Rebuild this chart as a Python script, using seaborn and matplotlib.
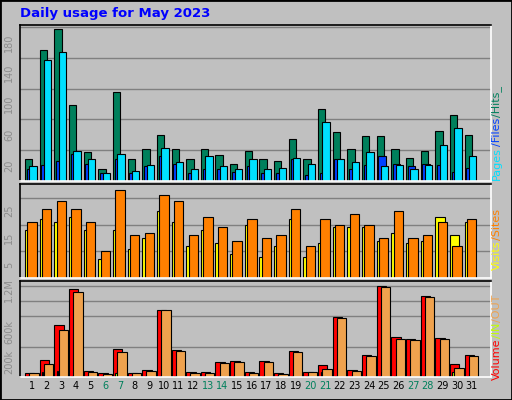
import matplotlib
matplotlib.use("Agg")
import matplotlib.pyplot as plt
import seaborn as sns
import numpy as np
import pandas as pd

days = list(range(1, 32))
weekend = [6, 7, 13, 14, 20, 21, 27, 28]
hits = [28,170,198,99,37,15,115,28,41,59,41,28,41,33,22,39,28,26,54,29,94,63,41,58,58,42,30,39,65,86,59]
files = [16,21,26,35,22,10,29,10,19,32,22,10,16,15,11,19,10,10,28,8,10,29,15,20,32,22,19,22,20,11,17]
pages = [19,157,168,39,28,10,35,13,20,43,25,15,32,19,15,29,15,17,30,22,76,28,24,37,19,21,16,21,46,69,32]
visits = [18,22,21,23,18,7,18,11,15,25,21,12,18,13,9,20,8,12,22,8,13,19,19,19,14,17,13,14,23,16,21]
sites = [21,26,29,26,21,10,33,16,17,31,29,16,23,19,14,22,15,16,26,12,22,20,24,20,15,25,15,16,21,12,22]
vol_k = [44,217,681,1158,71,44,363,44,84,891,349,57,57,190,203,57,203,44,336,57,150,787,84,283,1198,522,495,1065,508,164,283]
in_k = [10,57,71,10,10,10,44,10,10,10,10,10,10,10,10,10,10,10,10,10,57,10,10,10,10,10,10,10,10,57,10]
out_k = [44,164,614,1118,57,31,323,44,71,880,336,44,44,177,190,44,190,31,323,57,97,773,71,270,1185,495,482,1052,495,110,270]

BG = "#C0C0C0"
fig = plt.figure(figsize=(5.12, 4.0), dpi=100, facecolor=BG)
d = np.array(days)

def bars(ax, vals, off, w, color):
    df = pd.DataFrame({"x": d + off, "y": vals})
    sns.barplot(data=df, x="x", y="y", native_scale=True, width=w, color=color,
                edgecolor="black", linewidth=0.8, errorbar=None, ax=ax, saturation=1)

def style(ax, ylim, ticks, labels, grid):
    ax.set_facecolor(BG)
    ax.set_xlim(0.18, 32.32)
    ax.set_ylim(0, ylim)
    ax.set_yticks(grid, minor=True)
    ax.grid(True, which="minor", axis="y", color="#808080", lw=1)
    ax.set_axisbelow(True)
    ax.set_yticks(ticks)
    ax.set_yticklabels(labels, rotation=90, va="center", color="#8c8c8c", fontsize=7)
    ax.tick_params(length=0, pad=4)
    ax.tick_params(which="minor", length=0)
    ax.set_xlabel(""); ax.set_ylabel("")
    for s in ["left", "top"]:
        ax.spines[s].set_color("black")
    for s in ["right", "bottom"]:
        ax.spines[s].set_color("white")
    for s in ax.spines.values():
        s.set_linewidth(1.2)

ax1 = fig.add_axes([20/512, 0.548, 471/512, 0.39])
bars(ax1, hits, -0.23, 0.5, "#00805C")
bars(ax1, files, -0.11, 0.5, "#0040FF")
bars(ax1, pages, 0.07, 0.5, "#00E0FF")
style(ax1, 203, [20, 60, 100, 140, 180], ["20", "60", "100", "140", "180"], list(range(20, 201, 20)))
ax1.set_xticks([])

ax2 = fig.add_axes([20/512, 0.305, 471/512, 0.235])
bars(ax2, visits, -0.16, 0.64, "#FFFF00")
bars(ax2, sites, 0.0, 0.64, "#FF8000")
style(ax2, 35.2, [5, 15, 25], ["5", "15", "25"], [5, 10, 15, 20, 25, 30])
ax2.set_xticks([])

ax3 = fig.add_axes([20/512, 0.058, 471/512, 0.2385])
bars(ax3, vol_k, -0.16, 0.64, "#FF0000")
bars(ax3, in_k, -0.27, 0.08, "#C0FF00")
bars(ax3, out_k, 0.13, 0.64, "#EFA24E")
style(ax3, 1264, [200, 600, 1150], ["200k", "600k", "1.2M"], [200, 400, 600, 800, 1000, 1200])
ax3.set_xticks(days)
ax3.set_xticklabels([str(x) for x in days], fontsize=7)
for lab, dd in zip(ax3.get_xticklabels(), days):
    lab.set_color("#00805C" if dd in weekend else "black")
ax3.tick_params(axis="x", pad=3)

fig.text(20/512, 1 - 14/400, "Daily usage for May 2023", color="#0000FF",
         fontsize=9.5, fontweight="bold", va="center", ha="left")

renderer = fig.canvas.get_renderer()

def rlabel(parts, ybottom):
    y = 1 - ybottom / 400
    for txt, col in parts:
        t = fig.text(497/512, y, txt, color=col, rotation=90, fontsize=8,
                     ha="center", va="bottom")
        bb = t.get_window_extent(renderer)
        y += bb.height / 400 + 0.002

rlabel([("Pages", "#00E0FF"), ("/Files", "#0040FF"), ("/Hits_", "#00805C")], 180)
rlabel([("Visits", "#FFFF00"), ("/Sites", "#FF8000")], 270)
rlabel([("Volume", "#FF0000"), ("/IN", "#C0FF00"), ("/OUT", "#EFA24E")], 380)

fig.add_artist(plt.Rectangle((0, 0), 1, 1, transform=fig.transFigure, fill=False,
                             edgecolor="black", lw=2))
fig.savefig("out.png", dpi=100, facecolor=BG)
